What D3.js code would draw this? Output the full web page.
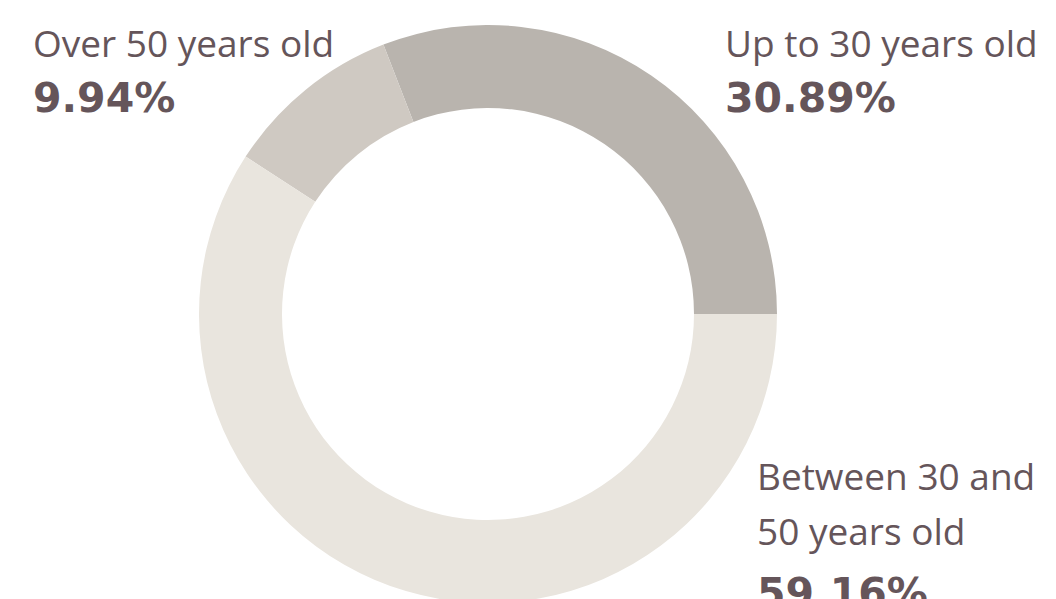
<!DOCTYPE html>
<html>
<head>
<meta charset="utf-8">
<script src="https://cdn.jsdelivr.net/npm/d3@7"></script>
<style>
  body { margin: 0; background: #fff; }
  svg { display: block; }
  text { fill: #65555a; }
  .lbl { font-family: "Open Sans", sans-serif; font-size: 37px; }
  .pct { font-family: "DejaVu Sans", sans-serif; font-size: 41px; font-weight: bold; }
</style>
</head>
<body>
<div id="chart"></div>
<script>
// Age groups, in drawing order (counter-clockwise from 3 o'clock)
var categories = ['Up to 30 years old', 'Over 50 years old', 'Between 30 and 50 years old'];
var values     = [30.89, 9.94, 59.16];
var pctLabels  = ['30.89%', '9.94%', '59.16%'];
var colors     = ['#b9b4ae', '#cfc9c2', '#e9e5de'];

var W = 1056, H = 599;
var cx = 488, cy = 314;
var outerR = 289, innerR = 206;

var svg = d3.select('#chart')
  .append('svg')
  .attr('width', W)
  .attr('height', H);

var pie = d3.pie()
  .sort(null)
  .startAngle(Math.PI / 2)
  .endAngle(Math.PI / 2 - 2 * Math.PI);

var arc = d3.arc().innerRadius(innerR).outerRadius(outerR);

svg.append('g')
  .attr('transform', 'translate(' + cx + ',' + cy + ')')
  .selectAll('path')
  .data(pie(values))
  .enter()
  .append('path')
  .attr('d', arc)
  .attr('fill', function(d, i){ return colors[i]; });

// Label positions (line baselines)
var labels = [
  { x: 725, lines: ['Up to 30 years old'], y: 57, py: 112 },
  { x: 33,  lines: ['Over 50 years old'],  y: 57, py: 112 },
  { x: 757, lines: ['Between 30 and', '50 years old'], y: 490, py: 607 }
];

labels.forEach(function(l, i){
  var t = svg.append('text')
    .attr('class', 'lbl')
    .attr('x', l.x)
    .attr('y', l.y);
  l.lines.forEach(function(line, j){
    t.append('tspan')
      .attr('x', l.x)
      .attr('dy', j === 0 ? 0 : 55)
      .text(line);
  });
  svg.append('text')
    .attr('class', 'pct')
    .attr('x', l.x)
    .attr('y', l.py)
    .text(pctLabels[i]);
});
</script>
</body>
</html>
